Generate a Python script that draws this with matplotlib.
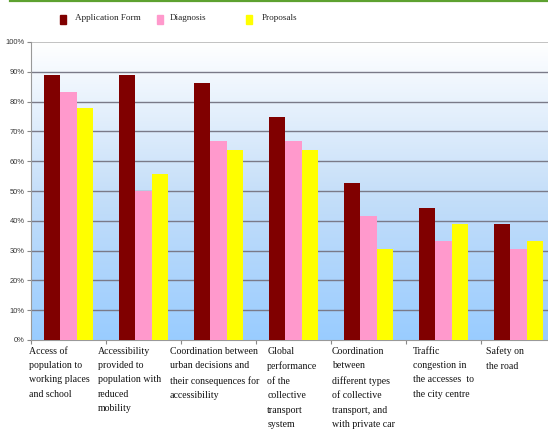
import matplotlib.pyplot as plt
import numpy as np
from matplotlib.colors import LinearSegmentedColormap
from matplotlib.lines import Line2D
from matplotlib.patches import Rectangle

# 数据
categories = [
    "Access of\npopulation to\nworking places\nand school",
    "Accessibility\nprovided to\npopulation with\nreduced\nmobility",
    "Coordination between\nurban decisions and\ntheir consequences for\naccessibility",
    "Global\nperformance\nof the\ncollective\ntransport\nsystem",
    "Coordination\nbetween\ndifferent types\nof collective\ntransport, and\nwith private car",
    "Traffic\ncongestion in\nthe accesses  to\nthe city centre",
    "Safety on\nthe road",
]
application_form = [88.9, 88.9, 86.1, 75.0, 52.8, 44.4, 38.9]
diagnosis = [83.3, 50.0, 66.7, 66.7, 41.7, 33.3, 30.6]
proposals = [77.8, 55.6, 63.9, 63.9, 30.6, 38.9, 33.3]
series_names = ["Application Form", "Diagnosis", "Proposals"]
colors = ["#800000", "#FF99CC", "#FFFF00"]

# 标签相对类别起点的偏移
label_offsets = [-0.03, -0.11, -0.15, 0.15, 0.01, 0.09, 0.07]

fig = plt.figure(figsize=(5.48, 4.32), dpi=100)
W, H = 548, 432
ax = fig.add_axes([31 / W, 1 - 340 / H, 525 / W, (340 - 42) / H])

n = len(categories)
x = np.arange(n)
bw = 0.222

# 渐变背景
cmap = LinearSegmentedColormap.from_list("bg", ["#99CCFF", "#C6DFF9", "#FFFFFF"])
grad = np.linspace(0, 1, 256).reshape(-1, 1)
ax.imshow(grad, cmap=cmap, aspect="auto", origin="lower",
          extent=[0, n, 0, 100], zorder=0)

for i, (vals, c) in enumerate(zip([application_form, diagnosis, proposals], colors)):
    ax.bar(x + 0.5 + (i - 1) * bw, vals, width=bw, color=c, zorder=3,
           edgecolor="none")

ax.set_xlim(0, n)
ax.set_ylim(0, 100)
ax.set_yticks(np.arange(0, 101, 10))
ax.set_yticklabels([f"{v}%" for v in range(0, 101, 10)],
                   fontsize=5.4, color="#333333", family="Liberation Sans")
for v in range(10, 100, 10):
    ax.axhline(v, color="#7a7a88", lw=1.0, zorder=1)
ax.axhline(100, color="#b8b8b8", lw=1.2, zorder=1)

ax.set_xticks(np.arange(0, n + 1))
ax.set_xticklabels([])
ax.tick_params(axis="x", length=3, color="#888888", width=0.8)
ax.tick_params(axis="y", length=3, color="#888888", width=0.8, pad=1.5)

for s in ["top", "right"]:
    ax.spines[s].set_visible(False)
ax.spines["left"].set_color("#999999")
ax.spines["bottom"].set_color("#999999")

for i, lab in enumerate(categories):
    ax.text(i + label_offsets[i], -2.2, lab, ha="left", va="top",
            fontsize=7.1, family="Liberation Serif", color="#111111",
            linespacing=1.78, clip_on=False)

# 图例
leg_x = [60, 157, 246]
text_x = [75, 170, 262]
for lx, tx, name, c in zip(leg_x, text_x, series_names, colors):
    fig.add_artist(Rectangle((lx / W, 1 - 24 / H), 6 / W, 9 / H,
                             transform=fig.transFigure, color=c))
    fig.text(tx / W, 1 - 18 / H, name, fontsize=6.6, family="Liberation Serif",
             va="center", ha="left", color="#222222")

# 顶部绿线
fig.add_artist(Line2D([10 / W, 1], [1 - 0.8 / H, 1 - 0.8 / H],
                      transform=fig.transFigure, color="#5DA130", lw=1.6))

fig.savefig("out.png", dpi=100)
